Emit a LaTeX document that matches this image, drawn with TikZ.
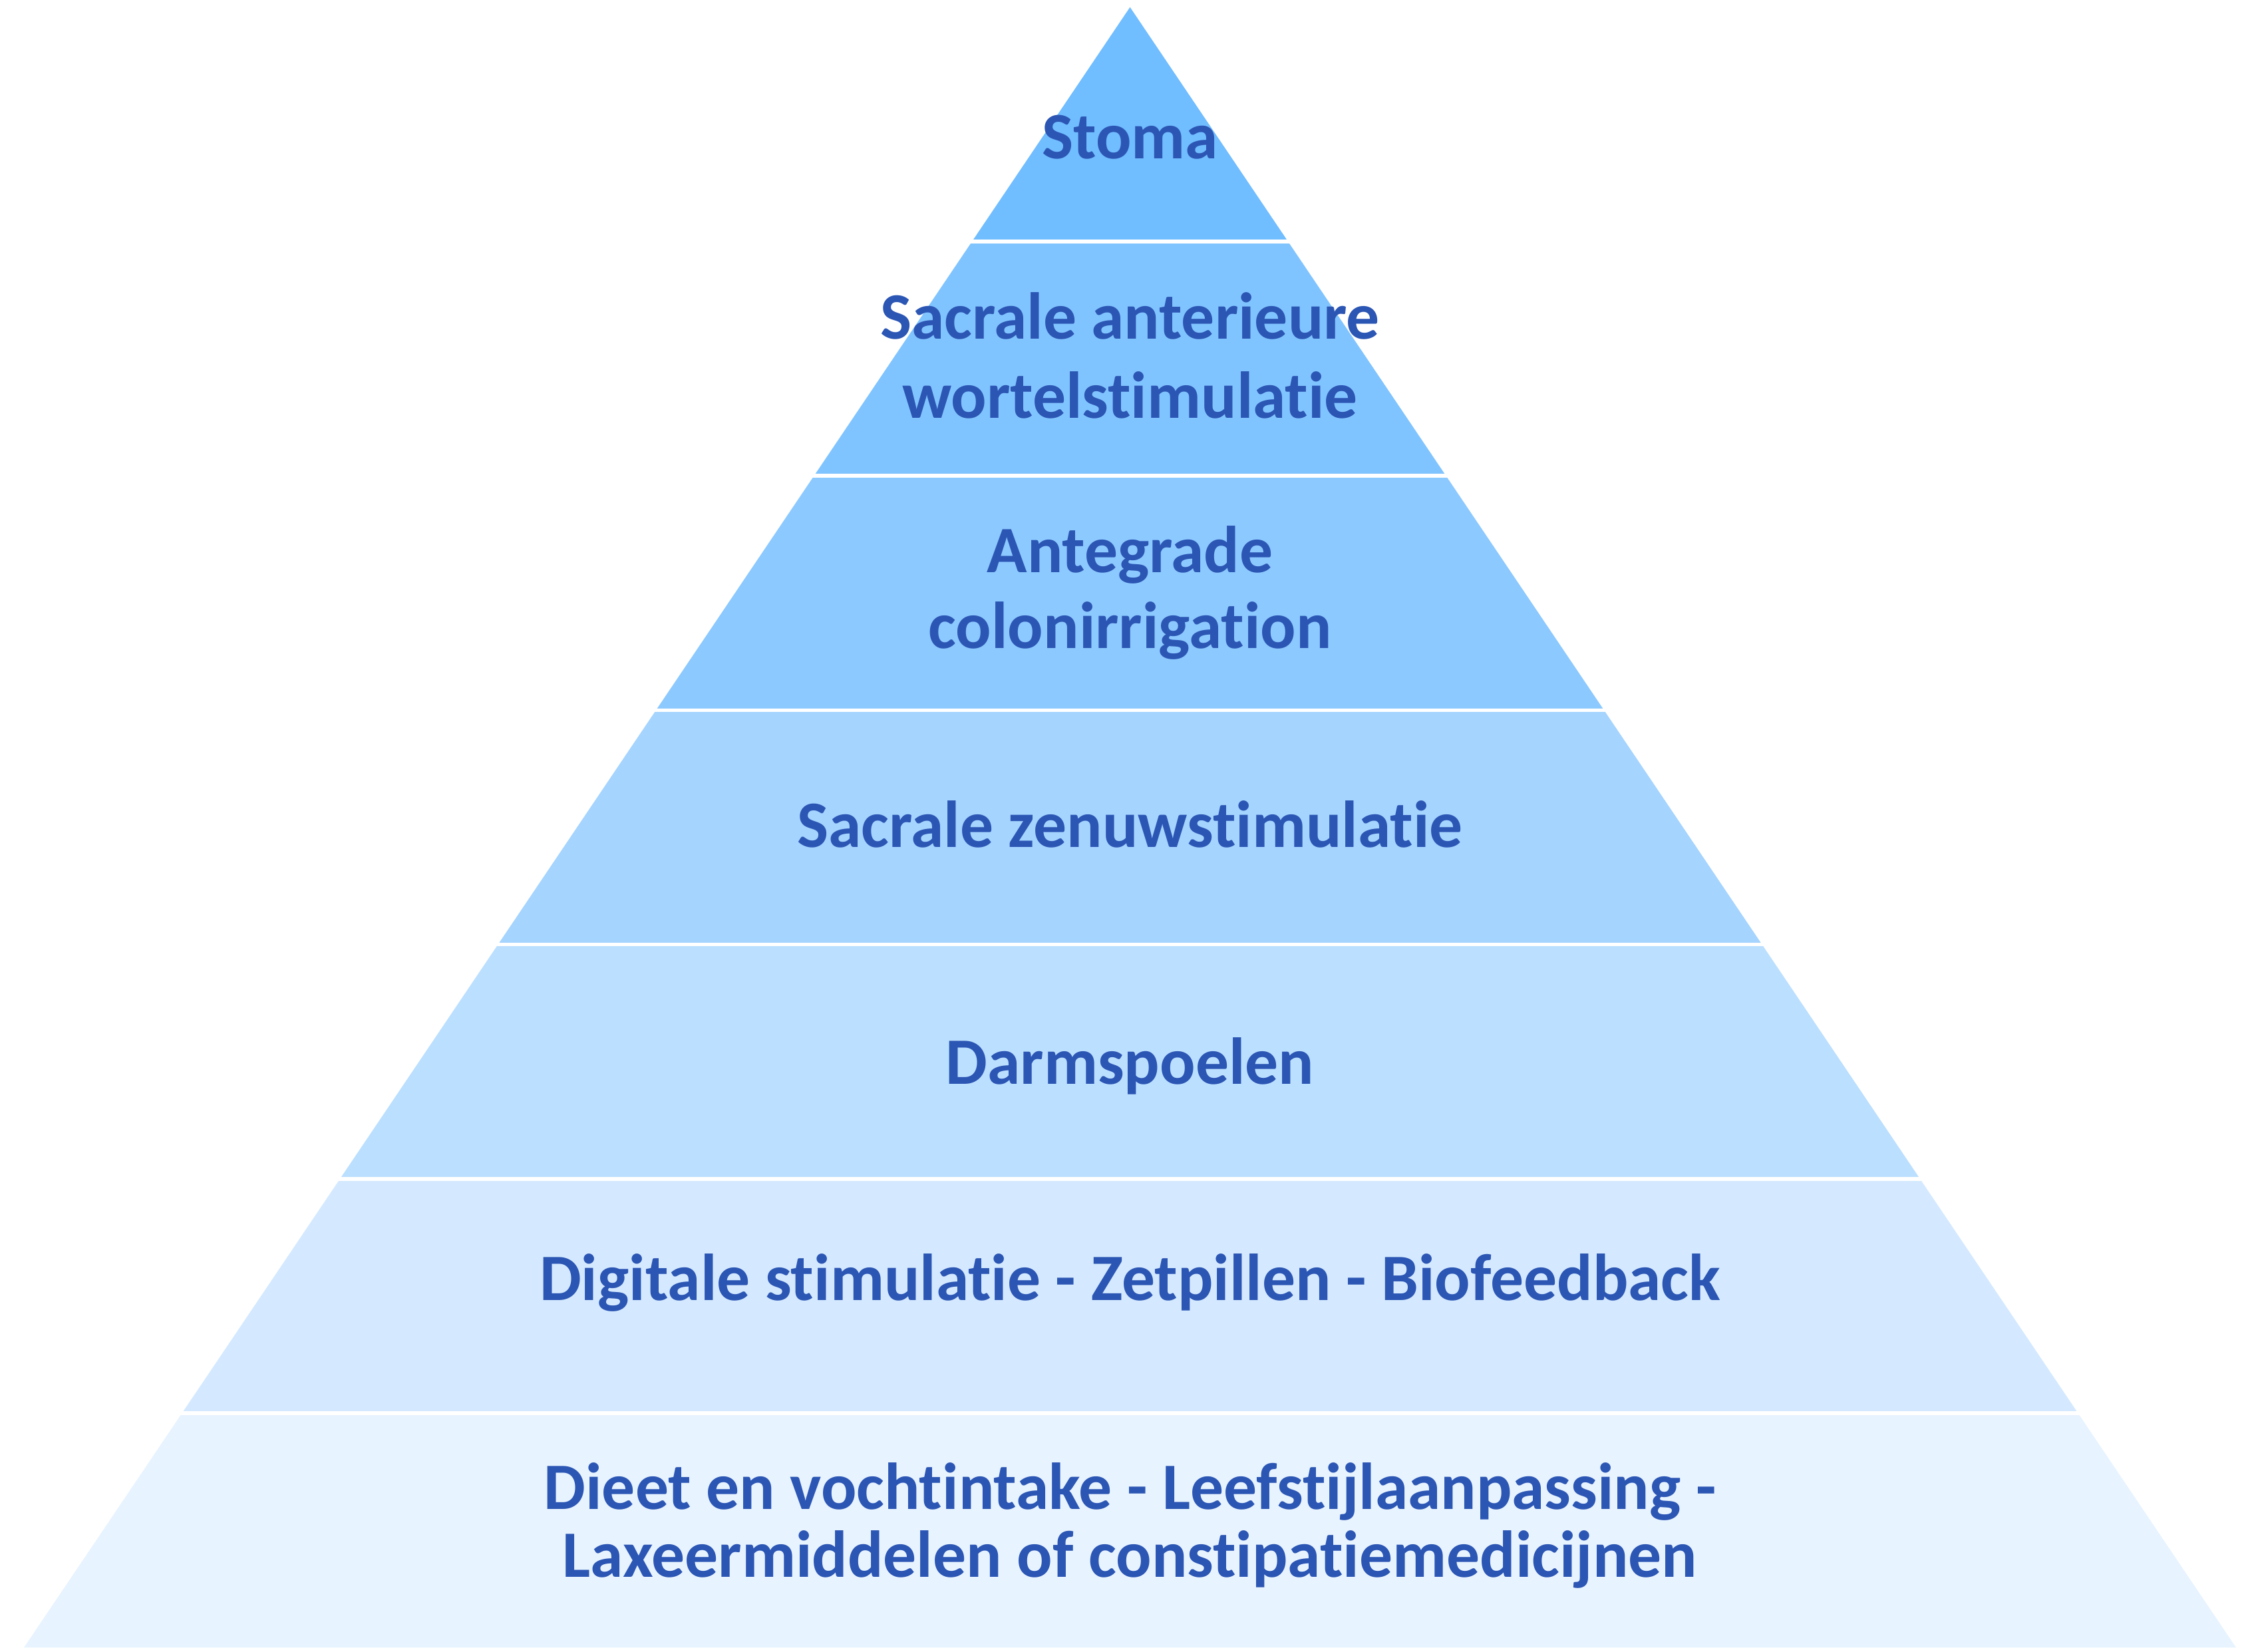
\documentclass[tikz,border=0pt]{standalone}
\usepackage{fontspec}
\setmainfont[Ligatures=NoCommon]{Carlito}
\definecolor{txt}{HTML}{2C56B4}
\definecolor{L1}{HTML}{70BDFF}
\definecolor{L2}{HTML}{80C4FF}
\definecolor{L3}{HTML}{8CC9FF}
\definecolor{L4}{HTML}{A5D4FF}
\definecolor{L5}{HTML}{BBDFFF}
\definecolor{L6}{HTML}{D4E9FF}
\definecolor{L7}{HTML}{E7F3FF}
\tikzset{
  lbl/.style={text=txt, font=\fontsize{46}{55}\selectfont\bfseries, align=center, anchor=base, inner sep=0pt},
  gapline/.style={draw=white, line width=2.6pt}
}
\begin{document}
\begin{tikzpicture}[x=1pt,y=1pt]
\useasboundingbox (0,0) rectangle (1568,1146);
% apex (784,1141), base y=3, slope 0.6743
\pgfmathsetmacro{\h}{162.571}
\foreach \i/\c in {1/L1,2/L2,3/L3,4/L4,5/L5,6/L6,7/L7}{
  \pgfmathsetmacro{\dt}{(\i-1)*\h}
  \pgfmathsetmacro{\db}{\i*\h}
  \pgfmathsetmacro{\wt}{0.6743*\dt}
  \pgfmathsetmacro{\wb}{0.6743*\db}
  \fill[\c] (784-\wt,1141-\dt) -- (784+\wt,1141-\dt) -- (784+\wb,1141-\db) -- (784-\wb,1141-\db) -- cycle;
}
\foreach \i in {1,...,6}{
  \pgfmathsetmacro{\d}{\i*\h}
  \draw[gapline] (0,1141-\d) -- (1568,1141-\d);
}
\node[lbl] (t1) at (784,1146-110) {Stoma};
\node[lbl] (t2a) at (784,1146-235) {Sacrale anterieure};
\node[lbl] (t2b) at (784,1146-290) {wortelstimulatie};
\node[lbl] (t3a) at (784,1146-397) {Antegrade};
\node[lbl] (t3b) at (784,1146-450) {colonirrigation};
\node[lbl] (t4) at (784,1146-588) {Sacrale zenuwstimulatie};
\node[lbl] (t5) at (784,1146-752) {Darmspoelen};
\node[lbl] (t6) at (784,1146-902) {Digitale stimulatie - Zetpillen - Biofeedback};
\node[lbl] (t7a) at (784,1146-1047) {Dieet en vochtintake - Leefstijlaanpassing -};
\node[lbl] (t7b) at (784,1146-1094) {Laxeermiddelen of constipatiemedicijnen};
\end{tikzpicture}
\end{document}
